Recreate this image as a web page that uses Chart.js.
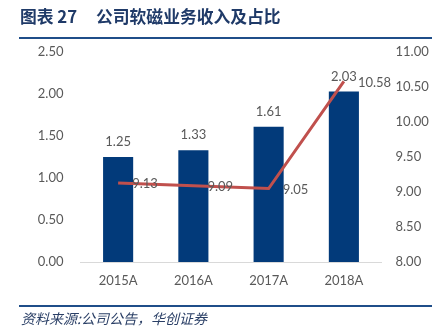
<!DOCTYPE html>
<html><head><meta charset="utf-8">
<script src="https://cdn.jsdelivr.net/npm/chart.js@4"></script>
<style>
html,body{margin:0;padding:0;background:#fff;width:445px;height:336px;overflow:hidden;}
#wrap{position:relative;width:445px;height:336px;}
#c{position:absolute;left:0;top:0;}
.t{position:absolute;top:5px;font-family:"Noto Sans CJK SC";font-weight:700;font-size:16.8px;color:#1F3A68;line-height:22px;white-space:nowrap;}
#tl{position:absolute;left:19px;top:37px;width:413px;height:2px;background:#1F4E89;}
#fl{position:absolute;left:19px;top:305px;width:413px;height:2px;background:#1F4E89;}
#src{position:absolute;left:21px;top:309px;font-family:"Noto Sans CJK SC";font-style:italic;font-weight:400;font-size:14px;color:#2A3F66;line-height:18px;white-space:nowrap;}
</style></head>
<body><div id="wrap">
<canvas id="c" width="445" height="336"></canvas>
<div class="t" style="left:20px">图表 27</div>
<div class="t" style="left:96px">公司软磁业务收入及占比</div>
<div id="tl"></div>
<div id="fl"></div>
<div id="src">资料来源:公司公告，华创证券</div>
</div>
<script>
const categories = ["2015A","2016A","2017A","2018A"];
const revenue = [1.25, 1.33, 1.61, 2.03];
const share = [9.13, 9.09, 9.05, 10.58];
const leftTicks = [0, 0.5, 1, 1.5, 2, 2.5];
const rightTicks = [8, 8.5, 9, 9.5, 10, 10.5, 11];

const FONT = "Lato";
const GREY = "#595959";

const labelPlugin = {
  id: "labels",
  afterDatasetsDraw(chart) {
    const ctx = chart.ctx;
    ctx.save();
    ctx.font = "13px " + FONT;
    ctx.fillStyle = GREY;
    ctx.textBaseline = "middle";
    const barMeta = chart.getDatasetMeta(1);
    barMeta.data.forEach((el, i) => {
      ctx.textAlign = "center";
      ctx.fillText(revenue[i].toFixed(2), el.x, el.y - 15);
    });
    const lineMeta = chart.getDatasetMeta(0);
    lineMeta.data.forEach((el, i) => {
      ctx.textAlign = "left";
      ctx.fillText(share[i].toFixed(2), el.x + 14, el.y + 1);
    });
    ctx.restore();
  }
};

new Chart(document.getElementById("c"), {
  data: {
    labels: categories,
    datasets: [
      { type: "line", data: share, yAxisID: "y2", borderColor: "#C0504D", borderWidth: 3,
        pointRadius: 0, tension: 0, order: 0 },
      { type: "bar", data: revenue, yAxisID: "y", backgroundColor: "#023A7A",
        borderColor: "#2A5A94", borderWidth: 0, barPercentage: 0.4, categoryPercentage: 1, order: 1 }
    ]
  },
  options: {
    responsive: false, animation: false,
    layout: { padding: { top: 52, left: 0, right: 0, bottom: 0 } },
    plugins: { legend: { display: false }, tooltip: { enabled: false } },
    scales: {
      x: {
        grid: { display: false, drawTicks: false },
        border: { display: true, color: "#D9D9D9", width: 1 },
        ticks: { color: GREY, font: { family: FONT, size: 13 }, padding: 11 },
        afterFit(s) { s.height = 74; }
      },
      y: {
        position: "left", min: 0, max: 2.5,
        afterBuildTicks(s) { s.ticks = leftTicks.map(v => ({ value: v })); },
        grid: { display: false, drawTicks: false },
        border: { display: false },
        ticks: { color: GREY, font: { family: FONT, size: 13 }, padding: 17,
          callback: v => Number(v).toFixed(2) },
        afterFit(s) { s.width = 80.5; }
      },
      y2: {
        position: "right", min: 8, max: 11,
        afterBuildTicks(s) { s.ticks = rightTicks.map(v => ({ value: v })); },
        grid: { display: false, drawTicks: false },
        border: { display: false },
        ticks: { color: GREY, font: { family: FONT, size: 13 }, padding: 14,
          callback: v => Number(v).toFixed(2) },
        afterFit(s) { s.width = 63.5; }
      }
    }
  },
  plugins: [labelPlugin]
});
</script>
</body></html>
